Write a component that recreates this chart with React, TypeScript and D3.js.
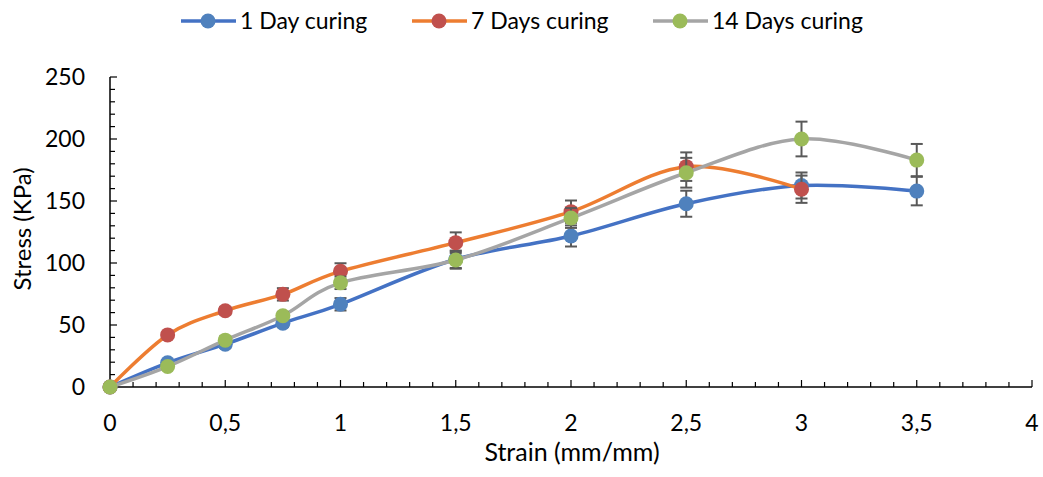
import { useRef, useEffect } from "react";
import * as d3 from "d3";

const strain1 = [0, 0.25, 0.5, 0.75, 1, 1.5, 2, 2.5, 3, 3.5];
const stress1 = [0, 19.5, 34.5, 51.5, 66.7, 103, 121.8, 147.8, 162.5, 158];
const err1 = [0, 2, 3, 3, 5, 7, 8.5, 10.5, 10.5, 11.5];

const strain7 = [0, 0.25, 0.5, 0.75, 1, 1.5, 2, 2.5, 3];
const stress7 = [0, 42, 61.5, 74.7, 93.3, 116.4, 141.4, 177.7, 159.5];
const err7 = [0, 2, 3, 5, 6.5, 8.3, 9, 11.5, 11];

const strain14 = [0, 0.25, 0.5, 0.75, 1, 1.5, 2, 2.5, 3, 3.5];
const stress14 = [0, 16.5, 37.8, 57.5, 84, 102.4, 136.3, 172.8, 200, 183];
const err14 = [0, 2, 3, 3, 5, 7, 8, 12, 14, 13];

const seriesNames = ["1 Day curing", "7 Days curing", "14 Days curing"];
const lineColors = ["#4472C4", "#ED7D31", "#A5A5A5"];
const markerColors = ["#4F81BD", "#C0504D", "#9BBB59"];

const xTicks = [0, 0.5, 1, 1.5, 2, 2.5, 3, 3.5, 4];
const yTicks = [0, 50, 100, 150, 200, 250];

const W = 1043;
const H = 477;
const FONT = "Lato, 'Open Sans', sans-serif";

export default function App() {
  const ref = useRef(null);

  useEffect(() => {
    const svg = d3.select(ref.current);
    svg.selectAll("*").remove();

    const x = d3.scaleLinear().domain([0, 4]).range([110, 1032]);
    const y = d3.scaleLinear().domain([0, 250]).range([387, 77]);

    const series = [
      { xs: strain1, ys: stress1, es: err1 },
      { xs: strain7, ys: stress7, es: err7 },
      { xs: strain14, ys: stress14, es: err14 },
    ].map((s, i) => ({
      name: seriesNames[i],
      line: lineColors[i],
      marker: markerColors[i],
      pts: s.xs.map((v, j) => ({ x: v, y: s.ys[j], e: s.es[j] })),
    }));

    // axes
    const ax = svg.append("g");
    ax.append("line")
      .attr("x1", x(0)).attr("x2", x(4))
      .attr("y1", y(0)).attr("y2", y(0))
      .attr("stroke", "#000").attr("stroke-width", 1.5);
    ax.append("line")
      .attr("x1", x(0)).attr("x2", x(0))
      .attr("y1", y(0)).attr("y2", y(250))
      .attr("stroke", "#000").attr("stroke-width", 1.5);

    // minor + major ticks, drawn inside the plot
    ax.selectAll(".xt")
      .data(d3.range(0, 41).map((i) => i / 10))
      .join("line")
      .attr("x1", (d) => x(d)).attr("x2", (d) => x(d))
      .attr("y1", y(0))
      .attr("y2", (d, i) => y(0) - (i % 5 === 0 ? 7 : 5))
      .attr("stroke", "#000").attr("stroke-width", 1.2);
    ax.selectAll(".yt")
      .data(d3.range(0, 26).map((i) => i * 10))
      .join("line")
      .attr("y1", (d) => y(d)).attr("y2", (d) => y(d))
      .attr("x1", x(0))
      .attr("x2", (d, i) => x(0) + (i % 5 === 0 ? 7 : 5))
      .attr("stroke", "#000").attr("stroke-width", 1.2);

    ax.selectAll(".xl")
      .data(xTicks)
      .join("text")
      .attr("x", (d) => x(d))
      .attr("y", 431)
      .attr("text-anchor", "middle")
      .attr("font-family", FONT)
      .attr("font-size", 23)
      .attr("fill", "#000")
      .text((d) => String(d).replace(".", ","));
    ax.selectAll(".yl")
      .data(yTicks)
      .join("text")
      .attr("x", 85)
      .attr("y", (d) => y(d) + 8)
      .attr("text-anchor", "end")
      .attr("font-family", FONT)
      .attr("font-size", 23)
      .attr("fill", "#000")
      .text((d) => d);

    svg.append("text")
      .attr("x", 572).attr("y", 461)
      .attr("text-anchor", "middle")
      .attr("font-family", FONT).attr("font-size", 25)
      .text("Strain (mm/mm)");
    svg.append("text")
      .attr("transform", `translate(31, 229) rotate(-90)`)
      .attr("text-anchor", "middle")
      .attr("font-family", FONT).attr("font-size", 24)
      .text("Stress (KPa)");

    const line = d3
      .line<any>()
      .x((d) => x(d.x))
      .y((d) => y(d.y))
      .curve(d3.curveCardinal.tension(0));

    series.forEach((s) => {
      const g = svg.append("g");
      g.append("path")
        .attr("d", line(s.pts))
        .attr("fill", "none")
        .attr("stroke", s.line)
        .attr("stroke-width", 3.5)
        .attr("stroke-linecap", "round");

      const eb = g.selectAll(".eb").data(s.pts.filter((p) => p.e > 0)).join("g");
      eb.append("line")
        .attr("x1", (d) => x(d.x)).attr("x2", (d) => x(d.x))
        .attr("y1", (d) => y(d.y - d.e)).attr("y2", (d) => y(d.y + d.e))
        .attr("stroke", "#595959").attr("stroke-width", 2);
      [-1, 1].forEach((sgn) => {
        eb.append("line")
          .attr("x1", (d) => x(d.x) - 6).attr("x2", (d) => x(d.x) + 6)
          .attr("y1", (d) => y(d.y + sgn * d.e)).attr("y2", (d) => y(d.y + sgn * d.e))
          .attr("stroke", "#595959").attr("stroke-width", 2);
      });

      g.selectAll("circle")
        .data(s.pts)
        .join("circle")
        .attr("cx", (d) => x(d.x))
        .attr("cy", (d) => y(d.y))
        .attr("r", 7.5)
        .attr("fill", s.marker);
    });

    // legend
    const legX = [181, 412, 653];
    const lg = svg.append("g");
    series.forEach((s, i) => {
      const lx = legX[i];
      lg.append("line")
        .attr("x1", lx).attr("x2", lx + 55)
        .attr("y1", 21).attr("y2", 21)
        .attr("stroke", s.line).attr("stroke-width", 3.5);
      lg.append("circle")
        .attr("cx", lx + 27).attr("cy", 21).attr("r", 7.5)
        .attr("fill", s.marker);
      lg.append("text")
        .attr("x", lx + 59).attr("y", 29)
        .attr("font-family", FONT).attr("font-size", 23)
        .text(s.name);
    });
  }, []);

  return (
    <svg
      ref={ref}
      width={W}
      height={H}
      style={{ display: "block", position: "absolute", left: 0, top: 0, background: "#fff" }}
    />
  );
}
